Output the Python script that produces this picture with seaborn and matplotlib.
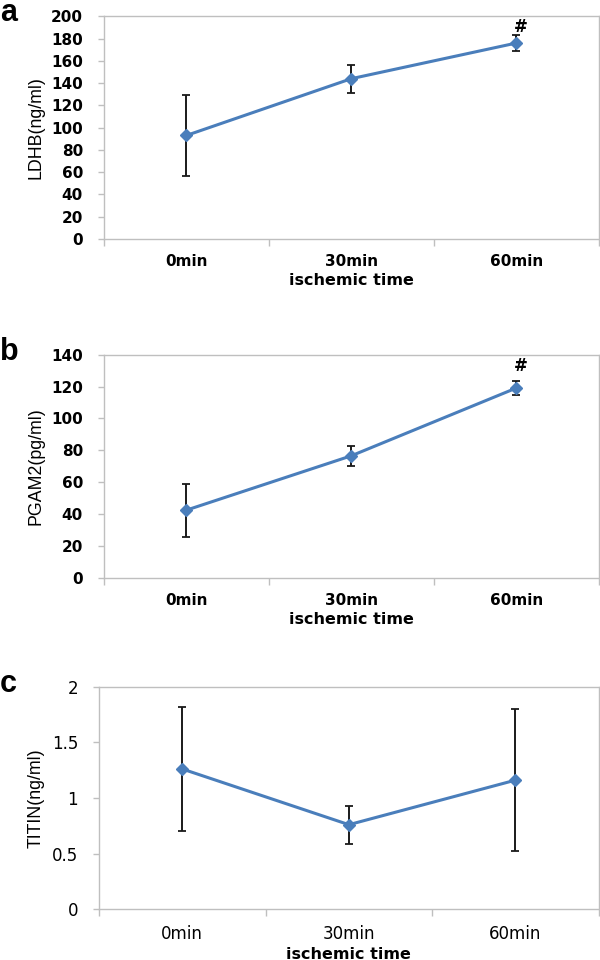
import matplotlib
matplotlib.use("Agg")
import matplotlib.pyplot as plt
import seaborn as sns
import pandas as pd
from matplotlib.ticker import FixedLocator

categories = ["0min", "30min", "60min"]

ldhb_mean = [93, 144, 176]
ldhb_err = [36.5, 12.7, 7.5]

pgam2_mean = [42.5, 76.6, 119.1]
pgam2_err = [16.6, 6.1, 4.4]

titin_mean = [1.26, 0.76, 1.16]
titin_err = [0.556, 0.172, 0.64]

ldhb_ticks = [0, 20, 40, 60, 80, 100, 120, 140, 160, 180, 200]
pgam2_ticks = [0, 20, 40, 60, 80, 100, 120, 140]
titin_ticks = [0, 0.5, 1, 1.5, 2]
titin_ticklabels = ["0", "0.5", "1", "1.5", "2"]

sns.set_style("white")
plt.rcParams["font.family"] = ["DejaVu Sans"]
plt.rcParams["text.color"] = "black"
plt.rcParams["axes.labelcolor"] = "black"
plt.rcParams["xtick.labelcolor"] = "black"
plt.rcParams["ytick.labelcolor"] = "black"

LINE = "#4A7EBB"
GRID = "#BFBFBF"
W, H = 600, 960

fig = plt.figure(figsize=(6, 9.6), dpi=100)

panels = [
    dict(rect=[0.173, 0.751, 0.825, 0.232], mean=ldhb_mean, err=ldhb_err,
         ylabel="LDHB(ng/ml)", ticks=ldhb_ticks, labels=[str(t) for t in ldhb_ticks],
         ylim=(0, 200), letter="a", hash_off=-1, bold=True),
    dict(rect=[0.173, 0.398, 0.825, 0.2325], mean=pgam2_mean, err=pgam2_err,
         ylabel="PGAM2(pg/ml)", ticks=pgam2_ticks, labels=[str(t) for t in pgam2_ticks],
         ylim=(0, 140), letter="b", hash_off=4, bold=True),
    dict(rect=[0.165, 0.0528, 0.833, 0.232], mean=titin_mean, err=titin_err,
         ylabel="TITIN(ng/ml)", ticks=titin_ticks, labels=titin_ticklabels,
         ylim=(0, 2), letter="c", hash_off=None, bold=False),
]

for p in panels:
    ax = fig.add_axes(p["rect"])
    df = pd.DataFrame({"time": categories, "value": p["mean"]})
    sns.lineplot(data=df, x="time", y="value", ax=ax, color=LINE, linewidth=2.2,
                 marker="D", markersize=6.5, markeredgecolor=LINE, markeredgewidth=1,
                 sort=False, zorder=3)
    ax.errorbar(categories, p["mean"], yerr=p["err"], fmt="none", ecolor="#1a1a1a",
                elinewidth=1.4, capsize=2.6, capthick=1.3, zorder=2)
    ax.set_xlim(-0.5, 2.5)
    ax.set_ylim(*p["ylim"])
    ax.set_yticks(p["ticks"])
    if p["bold"]:
        tfs, w = 11, "bold"
    else:
        tfs, w = 12, "normal"
    ax.set_yticklabels(p["labels"], fontsize=tfs, fontweight=w)
    ax.set_xticks(range(len(categories)))
    ax.set_xticklabels(categories, fontsize=tfs, fontweight=w)
    ax.xaxis.set_minor_locator(FixedLocator([-0.5, 0.5, 1.5, 2.5]))
    ax.tick_params(axis="x", which="major", length=0, pad=11, bottom=False)
    ax.tick_params(axis="x", which="minor", length=5, color=GRID, width=1,
                   direction="out", bottom=True)
    ax.tick_params(axis="y", which="major", length=4, color=GRID, width=1,
                   direction="out", pad=11, left=True)
    for s in ax.spines.values():
        s.set_color(GRID)
        s.set_linewidth(1)
        s.set_visible(True)
    ax.set_xlabel("ischemic time", fontsize=11.5, fontweight="bold", labelpad=3)
    ax.set_ylabel(p["ylabel"], fontsize=12.8,
                  family=["Liberation Sans", "DejaVu Sans"])
    ax.yaxis.set_label_coords(36 / W, p["rect"][1] + p["rect"][3] / 2,
                              transform=fig.transFigure)
    ax.yaxis.label.set_verticalalignment("center")
    if p["hash_off"] is not None:
        ax.annotate("#", xy=(2, p["mean"][2] + p["err"][2]), xytext=(3, p["hash_off"]),
                    textcoords="offset points", ha="center", va="bottom",
                    fontsize=12, fontweight="bold")
    x0, y0, wd, ht = p["rect"]
    fig.text(0.0, y0 + ht - 5 / H, p["letter"], fontsize=22, fontweight="bold",
             ha="left", va="baseline", family=["Liberation Sans", "DejaVu Sans"])

fig.savefig("out.png", dpi=100)
